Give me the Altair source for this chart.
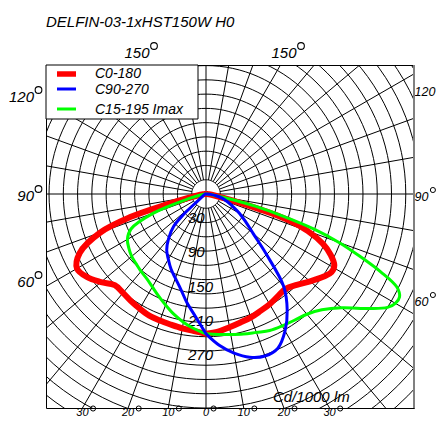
import math
import pandas as pd
import altair as alt

# ---------------- data ----------------
TITLE = "DELFIN-03-1xHST150W H0"
UNIT = "Cd/1000 lm"
SERIES_NAMES = ["C0-180", "C90-270", "C15-195 Imax"]
SERIES_COLORS = ["#ff0000", "#0000ff", "#00ff00"]
SERIES_WIDTHS = [6, 3, 3]

# right half (C0 / C90 / C15) and left half (C180 / C270 / C195), gamma in degrees, values in cd/1000 lm
red_c0_gamma = [0, 5, 10, 15, 20, 25, 30, 35, 40, 45, 50, 55, 58, 61, 64, 67, 70, 72.5, 75, 80, 85, 90]
red_c0_cd = [245, 242, 237, 233, 230, 226, 223, 219, 217, 225, 238, 252, 259, 257, 243, 222, 190, 150, 75, 15, 5, 2]
red_c180_gamma = [0, 5, 10, 15, 20, 25, 30, 35, 40, 45, 50, 55, 60, 65, 70, 73, 75, 80, 85, 90]
red_c180_cd = [245, 241, 239, 237, 236, 235, 232, 229, 226, 226, 240, 254, 261, 244, 197, 140, 75, 15, 5, 2]

blue_c90_gamma = [0, 5, 10, 15, 20, 25, 30, 35, 40, 45, 50, 55, 60, 65, 70, 75, 80, 85, 90]
blue_c90_cd = [245, 266, 283, 296, 302, 298, 277, 248, 212, 150, 108, 85, 68, 52, 40, 30, 18, 8, 2]
blue_c270_gamma = [0, 5, 10, 15, 20, 25, 30, 35, 40, 45, 47.5, 50, 55, 60, 70, 80, 90]
blue_c270_cd = [245, 215, 193, 172, 157, 145, 132, 120, 102, 80, 55, 20, 8, 5, 3, 2, 1]

green_c15_gamma = [0, 5, 10, 15, 20, 25, 30, 35, 40, 45, 50, 55, 58, 60, 62, 64, 66, 68, 70, 72, 74, 76, 78, 80, 85, 90]
green_c15_cd = [245, 247, 250, 254, 258, 264, 267, 270, 275, 287, 310, 350, 375, 383, 384, 372, 335, 290, 248, 200, 140, 90, 50, 20, 6, 2]
green_c195_gamma = [0, 5, 10, 15, 20, 25, 30, 35, 40, 45, 50, 55, 60, 65, 70, 75, 80, 85, 90]
green_c195_cd = [245, 237, 228, 218, 207, 197, 188, 181, 177, 173, 170, 165, 159, 145, 98, 30, 10, 4, 2]

RING_STEP = 25
RING_COUNT = 22
SPOKE_STEP = 10
RADIAL_LABELS = [30, 90, 150, 210, 270]
TOP_LABELS = ["150", "150"]
SIDE_LABELS = ["120", "90", "60"]
BOTTOM_ANGLES = [-30, -20, -10, 0, 10, 20, 30]

# ---------------- geometry (page pixels) ----------------
K = 14.27 / RING_STEP            # px per cd
FL, FT, FR, FB = 46, 65, 414, 408
CX, CY = 206, 194
W, H = FR - FL, FB - FT

def dx(px):
    return (px - CX) / K

def dy(py):
    return (CY - py) / K

xs = alt.Scale(domain=[dx(FL), dx(FR)], nice=False, zero=False)
ys = alt.Scale(domain=[dy(FB), dy(FT)], nice=False, zero=False)
XE = alt.X("x:Q", scale=xs, axis=None)
YE = alt.Y("y:Q", scale=ys, axis=None)
X2E = alt.X2("x2:Q")
Y2E = alt.Y2("y2:Q")
FONT = "Liberation Sans"
FS = 15
FS_RIGHT = 12.5
FS_BOTTOM = 11
FS_LEGEND = 14

# ---------------- grid ----------------
ring_rows = []
for i in range(1, RING_COUNT + 1):
    r = i * RING_STEP
    for a in range(0, 361, 3):
        t = math.radians(a)
        ring_rows.append({"ring": i, "o": a, "x": r * math.sin(t), "y": r * math.cos(t)})
rings = alt.Chart(pd.DataFrame(ring_rows)).mark_line(clip=True, color="black", strokeWidth=1).encode(
    x=XE, y=YE, detail="ring:N", order="o:Q")

spoke_rows = []
for a in range(0, 360, SPOKE_STEP):
    t = math.radians(a)
    r0 = 0 if a % 90 == 0 else RING_STEP
    for j, r in enumerate([r0, 1000]):
        spoke_rows.append({"s": a, "o": j, "x": r * math.sin(t), "y": r * math.cos(t)})
spokes = alt.Chart(pd.DataFrame(spoke_rows)).mark_line(clip=True, color="black", strokeWidth=1).encode(
    x=XE, y=YE, detail="s:N", order="o:Q")

# ---------------- curves ----------------
def curve_df(g_right, v_right, g_left, v_left):
    rows = []
    o = 0
    for g, v in reversed(list(zip(g_left, v_left))):
        t = math.radians(g)
        rows.append({"o": o, "x": -v * math.sin(t), "y": -v * math.cos(t)})
        o += 1
    for g, v in zip(g_right, v_right):
        t = math.radians(g)
        rows.append({"o": o, "x": v * math.sin(t), "y": -v * math.cos(t)})
        o += 1
    return pd.DataFrame(rows)

def curve(df, color, width):
    return alt.Chart(df).mark_line(color=color, strokeWidth=width, interpolate="catmull-rom",
                                   strokeJoin="round", strokeCap="round").encode(x=XE, y=YE, order="o:Q")

red = curve(curve_df(red_c0_gamma, red_c0_cd, red_c180_gamma, red_c180_cd), SERIES_COLORS[0], SERIES_WIDTHS[0])
blue = curve(curve_df(blue_c90_gamma, blue_c90_cd, blue_c270_gamma, blue_c270_cd), SERIES_COLORS[1], SERIES_WIDTHS[1])
green = curve(curve_df(green_c15_gamma, green_c15_cd, green_c195_gamma, green_c195_cd), SERIES_COLORS[2], SERIES_WIDTHS[2])

# ---------------- radial labels ----------------
rad_df = pd.DataFrame({"t": [str(v) for v in RADIAL_LABELS],
                       "x": [dx(188)] * len(RADIAL_LABELS),
                       "y": [dy(CY + v * K + 7) for v in RADIAL_LABELS]})
rad_text = alt.Chart(rad_df).mark_text(align="left", baseline="middle", font=FONT, fontSize=FS,
                                       fontStyle="italic", color="black").encode(x=XE, y=YE, text="t:N")

# ---------------- angle labels ----------------
lab_center, lab_left, lab_right, lab_bottom = [], [], [], []
degs, degs_small = [], []

def add(lst, dlst, text, px, py, right_edge, lift=7):
    lst.append({"t": text, "x": dx(px), "y": dy(py)})
    dlst.append({"x": dx(right_edge + 4.5), "y": dy(py - lift)})

dw = 0.556 * FS
dwr = 0.556 * FS_RIGHT
dwb = 0.556 * FS_BOTTOM
for text, px in zip(TOP_LABELS, [137, 284]):
    add(lab_center, degs, text, px, 53, px + len(text) * dw / 2)
for text, py in zip(SIDE_LABELS, [97, 196, 282]):
    add(lab_right, degs, text, 34, py, 34)
for text, py in zip(SIDE_LABELS, [92, 197, 302]):
    add(lab_left, degs_small, text, 414.5, py, 414.5 + len(text) * dwr)
for a in BOTTOM_ANGLES:
    text = str(abs(a))
    px = CX + math.tan(math.radians(a)) * (FB - CY)
    add(lab_bottom, degs_small, text, px, 413, px + len(text) * dwb / 2, lift=4.5)

def tlayer(rows, align, size=FS):
    return alt.Chart(pd.DataFrame(rows)).mark_text(align=align, baseline="middle", font=FONT, fontSize=size,
                                                   fontStyle="italic", color="black").encode(x=XE, y=YE, text="t:N")

ang_c = tlayer(lab_center, "center")
ang_b = tlayer(lab_bottom, "center", FS_BOTTOM)
ang_l = tlayer(lab_left, "left", FS_RIGHT)
ang_r = tlayer(lab_right, "right")
deg_pts = alt.Chart(pd.DataFrame(degs)).mark_point(shape="circle", filled=False, size=45, color="black",
                                                   strokeWidth=1.1, opacity=1).encode(x=XE, y=YE)
deg_pts_b = alt.Chart(pd.DataFrame(degs_small)).mark_point(shape="circle", filled=False, size=26, color="black",
                                                           strokeWidth=1, opacity=1).encode(x=XE, y=YE)

unit_text = tlayer([{"t": UNIT, "x": dx(273), "y": dy(397)}], "left")
title_text = tlayer([{"t": TITLE, "x": dx(46), "y": dy(22)}], "left")

# ---------------- legend ----------------
leg_box = alt.Chart(pd.DataFrame([{"x": dx(46), "x2": dx(198), "y": dy(65), "y2": dy(119)}])).mark_rect(
    fill="white", stroke="black", strokeWidth=1).encode(x=XE, x2=X2E, y=YE, y2=Y2E)
leg_y = [74, 89, 109]
leg_ty = [73.5, 90, 110]
leg_df = pd.DataFrame({"name": SERIES_NAMES, "c": SERIES_COLORS, "w": [5.5, 3, 3],
                       "x": [dx(57)] * 3, "x2": [dx(76)] * 3, "y": [dy(v) for v in leg_y],
                       "tx": [dx(95)] * 3, "ty": [dy(v) for v in leg_ty]})
leg_lines = alt.Chart(leg_df).mark_rule().encode(
    x=XE, x2=X2E, y=YE, color=alt.Color("c:N", scale=None),
    strokeWidth=alt.StrokeWidth("w:Q", scale=None))
leg_text = alt.Chart(leg_df).mark_text(align="left", baseline="middle", font=FONT, fontSize=FS_LEGEND,
                                       fontStyle="italic", color="black").encode(
    x=alt.X("tx:Q", scale=xs, axis=None), y=alt.Y("ty:Q", scale=ys, axis=None), text="name:N")

right_border = alt.Chart(pd.DataFrame([{"x": dx(FR), "y": dy(FT), "y2": dy(FB)}])).mark_rule(
    color="#808080", strokeWidth=2).encode(x=XE, y=YE, y2=Y2E)

chart = alt.layer(
    rings, spokes, rad_text, red, green, blue,
    leg_box, leg_lines, leg_text,
    ang_c, ang_b, ang_l, ang_r, deg_pts, deg_pts_b, unit_text, title_text, right_border
).properties(
    width=W, height=H,
    autosize=alt.AutoSizeParams(type="none"),
    padding={"left": FL - 8, "top": FT - 8, "right": 444 - 16 - FR + 8, "bottom": 427 - 16 - FB + 8},
    background="white",
).configure_view(stroke="black", strokeWidth=1)

chart.save("out.html", embed_options={"renderer": "svg", "actions": False})
